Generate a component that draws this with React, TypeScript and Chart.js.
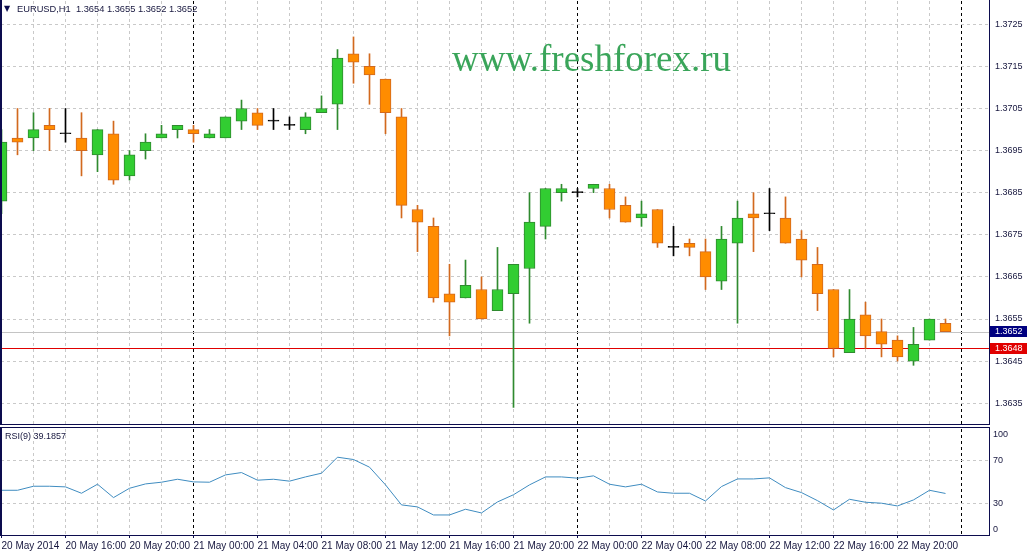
import React, { useEffect, useRef } from 'react';
import { Chart, registerables } from 'chart.js';

Chart.register(...registerables);

// ---------- data ----------
const symbolTitle = 'EURUSD,H1';
const watermarkText = 'www.freshforex.ru';
const rsiName = 'RSI(9)';
const startHour = 12; // first bar: 20 May 2014 12:00

const timeLabels = [
  '20 May 2014', '20 May 16:00', '20 May 20:00', '21 May 00:00', '21 May 04:00',
  '21 May 08:00', '21 May 12:00', '21 May 16:00', '21 May 20:00', '22 May 00:00',
  '22 May 04:00', '22 May 08:00', '22 May 12:00', '22 May 16:00', '22 May 20:00',
];

const opens = [
  1.3683, 1.3698, 1.3698, 1.3701, 1.3699, 1.3698, 1.3694, 1.3699, 1.3689, 1.3695,
  1.3698, 1.3700, 1.3700, 1.3698, 1.3698, 1.3702, 1.3704, 1.3702, 1.3701, 1.3700,
  1.3704, 1.3706, 1.3718, 1.3715, 1.3712, 1.3703, 1.3681, 1.3677, 1.3661, 1.3660,
  1.3662, 1.3657, 1.3661, 1.3667, 1.3677, 1.3685, 1.3685, 1.3686, 1.3686, 1.3682,
  1.3679, 1.3681, 1.3672, 1.3673, 1.3671, 1.3664, 1.3673, 1.3680, 1.3680, 1.3679,
  1.3674, 1.3668, 1.3662, 1.3647, 1.3656, 1.3652, 1.3650, 1.3645, 1.3650, 1.3654,
];
const highs = [
  1.3700, 1.3705, 1.3704, 1.3705, 1.3705, 1.3704, 1.3700, 1.3702, 1.3695, 1.3699,
  1.3701, 1.3701, 1.3701, 1.3700, 1.3703, 1.3707, 1.3705, 1.3705, 1.3703, 1.3704,
  1.3708, 1.3719, 1.3722, 1.3718, 1.3712, 1.3705, 1.3682, 1.3679, 1.3668, 1.3669,
  1.3665, 1.3672, 1.3668, 1.3685, 1.3686, 1.3687, 1.3686, 1.3687, 1.3687, 1.3684,
  1.3683, 1.3681, 1.3677, 1.3674, 1.3674, 1.3677, 1.3683, 1.3685, 1.3686, 1.3684,
  1.3676, 1.3672, 1.3662, 1.3662, 1.3659, 1.3655, 1.3651, 1.3653, 1.3655, 1.3655,
];
const lows = [
  1.3680, 1.3694, 1.3695, 1.3695, 1.3697, 1.3689, 1.3690, 1.3687, 1.3688, 1.3693,
  1.3698, 1.3698, 1.3697, 1.3698, 1.3698, 1.3700, 1.3700, 1.3700, 1.3700, 1.3699,
  1.3704, 1.3700, 1.3711, 1.3706, 1.3699, 1.3679, 1.3671, 1.3659, 1.3651, 1.3660,
  1.3655, 1.3657, 1.3634, 1.3654, 1.3674, 1.3683, 1.3684, 1.3685, 1.3679, 1.3678,
  1.3677, 1.3672, 1.3670, 1.3670, 1.3662, 1.3662, 1.3654, 1.3671, 1.3676, 1.3673,
  1.3665, 1.3657, 1.3646, 1.3647, 1.3648, 1.3646, 1.3645, 1.3644, 1.3650, 1.3652,
];
const closes = [
  1.3697, 1.3697, 1.3700, 1.3700, 1.3699, 1.3695, 1.3700, 1.3688, 1.3694, 1.3697,
  1.3699, 1.3701, 1.3699, 1.3699, 1.3703, 1.3705, 1.3701, 1.3702, 1.3701, 1.3703,
  1.3705, 1.3717, 1.3716, 1.3713, 1.3704, 1.3682, 1.3678, 1.3660, 1.3659, 1.3663,
  1.3655, 1.3662, 1.3668, 1.3678, 1.3686, 1.3686, 1.3685, 1.3687, 1.3681, 1.3678,
  1.3680, 1.3673, 1.3672, 1.3672, 1.3665, 1.3674, 1.3679, 1.3679, 1.3680, 1.3673,
  1.3669, 1.3661, 1.3648, 1.3655, 1.3651, 1.3649, 1.3646, 1.3649, 1.3655, 1.3652,
];
const rsiValues = [
  42.2, 42.2, 46.0, 46.0, 45.4, 39.4, 47.9, 35.3, 44.1, 48.2,
  49.8, 52.6, 50.1, 49.8, 56.7, 58.9, 51.7, 52.6, 50.8, 54.8,
  58.3, 73.4, 71.2, 64.0, 47.3, 28.4, 26.5, 18.9, 18.9, 24.3,
  20.8, 31.2, 38.0, 47.3, 54.8, 54.8, 53.6, 55.8, 47.9, 45.4,
  47.9, 40.6, 39.4, 39.4, 32.1, 45.7, 52.9, 52.9, 53.9, 44.7,
  40.0, 32.4, 23.6, 33.7, 30.9, 30.0, 27.4, 33.1, 42.2, 39.1857,
];
const priceTicks = [1.3635, 1.3645, 1.3655, 1.3665, 1.3675, 1.3685, 1.3695, 1.3705, 1.3715, 1.3725];
const rsiTicks = [0, 30, 70, 100];
const bidPrice = 1.3652;
const linePrice = 1.3648;

// ---------- styling ----------
const FONT = '"Liberation Sans", Arial, sans-serif';
const TEXT = '#16163e';
const NAVY = '#0c0c4e';
const GRID = '#c9c9c9';
const UP_FILL = '#32cd32';
const UP_EDGE = '#2f8a2f';
const DN_FILL = '#ff8c00';
const DN_EDGE = '#d2691e';
const DOJI = '#000000';

const N = opens.length;
const idx = opens.map((_, i) => i);
const gridSteps: number[] = [];
for (let i = 0; i <= N; i += 2) gridSteps.push(i);
const isMidnight = (v: number) => (startHour + v) % 24 === 0;
const kind = (i: number) => (closes[i] > opens[i] ? 'up' : closes[i] < opens[i] ? 'dn' : 'doji');
const fillOf = (i: number) => ({ up: UP_FILL, dn: DN_FILL, doji: DOJI }[kind(i)]);
const edgeOf = (i: number) => ({ up: UP_EDGE, dn: DN_EDGE, doji: DOJI }[kind(i)]);

const X_MIN = -1 / 32;
const X_MAX = 61.75 - 1 / 32;

Chart.defaults.font.family = FONT;

const noPad = (s: any) => {
  s.paddingTop = 0;
  s.paddingBottom = 0;
  s.paddingLeft = 0;
  s.paddingRight = 0;
};

function drawBorders(chart: any, topLine: boolean) {
  const { ctx, chartArea: a } = chart;
  const t = topLine ? a.top - 2 : 0;
  ctx.save();
  ctx.fillStyle = NAVY;
  ctx.fillRect(0, t, 2, a.bottom - t);
  ctx.fillRect(a.right, t, 1, a.bottom - t + 1);
  if (topLine) ctx.fillRect(0, t, a.right + 1, 1);
  ctx.fillRect(0, a.bottom - (topLine ? 0 : 1), a.right + 1, 1);
  ctx.restore();
}

const mainDecor = {
  id: 'mainDecor',
  beforeDatasetsDraw(chart: any) {
    const { ctx, chartArea: a, scales } = chart;
    const y = scales.y;
    ctx.save();
    ctx.fillStyle = '#3aa55a';
    ctx.font = '37px "Liberation Serif", "Times New Roman", serif';
    ctx.textBaseline = 'alphabetic';
    ctx.textAlign = 'left';
    ctx.fillText(watermarkText, 452, 71);
    ctx.setLineDash([]);
    ctx.lineWidth = 1;
    ctx.strokeStyle = '#c4c4c4';
    const yb = Math.round(y.getPixelForValue(bidPrice)) + 0.5;
    ctx.beginPath(); ctx.moveTo(a.left, yb); ctx.lineTo(a.right, yb); ctx.stroke();
    ctx.strokeStyle = '#e00000';
    const yr = Math.round(y.getPixelForValue(linePrice)) + 0.5;
    ctx.beginPath(); ctx.moveTo(a.left, yr); ctx.lineTo(a.right, yr); ctx.stroke();
    ctx.restore();
  },
  afterDraw(chart: any) {
    const { ctx, chartArea: a, scales } = chart;
    const y = scales.y;
    drawBorders(chart, false);
    ctx.save();
    ctx.textBaseline = 'middle';
    ctx.textAlign = 'left';
    ctx.fillStyle = NAVY;
    ctx.font = '8px "DejaVu Sans", sans-serif';
    ctx.fillText('\u25BC', 4, 9);
    ctx.fillStyle = TEXT;
    ctx.font = '9.3px ' + FONT;
    const L = N - 1;
    const head = `${symbolTitle}  ${opens[L].toFixed(4)} ${highs[L].toFixed(4)} ${lows[L].toFixed(4)} ${closes[L].toFixed(4)}`;
    ctx.fillText(head, 17, 9);
    ctx.font = '9px ' + FONT;
    const box = (v: number, bg: string) => {
      const top = Math.round(y.getPixelForValue(v) - 5.5);
      ctx.fillStyle = bg;
      ctx.fillRect(a.right + 1, top, 37, 11);
      ctx.fillStyle = '#ffffff';
      ctx.fillText(v.toFixed(4), a.right + 6, top + 5.5);
    };
    box(bidPrice, '#000080');
    box(linePrice, '#e00000');
    ctx.restore();
  },
};

const rsiDecor = {
  id: 'rsiDecor',
  afterDraw(chart: any) {
    const { ctx } = chart;
    drawBorders(chart, true);
    ctx.save();
    ctx.fillStyle = TEXT;
    ctx.font = '9px ' + FONT;
    ctx.textBaseline = 'middle';
    ctx.textAlign = 'left';
    ctx.fillText(`${rsiName} ${rsiValues[N - 1].toFixed(4)}`, 5, 11);
    ctx.restore();
  },
};

export default function App() {
  const mainRef = useRef<HTMLCanvasElement>(null);
  const rsiRef = useRef<HTMLCanvasElement>(null);

  useEffect(() => {
    const main = new Chart(mainRef.current as HTMLCanvasElement, {
      type: 'bar',
      data: {
        datasets: [
          {
            label: 'range',
            data: idx.map((i) => ({ x: i, y: [lows[i], highs[i]] })) as any,
            backgroundColor: idx.map(edgeOf),
            borderWidth: 0,
            barThickness: 1,
            grouped: false,
            order: 2,
          } as any,
          {
            label: 'body',
            data: idx.map((i) => ({ x: i, y: [opens[i], closes[i]] })) as any,
            backgroundColor: idx.map(fillOf),
            borderColor: idx.map(edgeOf),
            borderWidth: 1,
            borderSkipped: false,
            barThickness: 11,
            minBarLength: 1,
            grouped: false,
            order: 1,
          } as any,
        ],
      },
      options: {
        responsive: false,
        animation: false,
        layout: { padding: { left: 1, top: 1, right: 0, bottom: 0 } },
        plugins: { legend: { display: false }, tooltip: { enabled: false } },
        scales: {
          x: {
            type: 'linear',
            min: X_MIN,
            max: X_MAX,
            offset: false,
            afterBuildTicks: (s: any) => { s.ticks = gridSteps.map((v) => ({ value: v })); },
            afterFit: (s: any) => { s.height = 0; noPad(s); },
            ticks: { display: false },
            grid: {
              offset: false,
              drawTicks: false,
              color: (c: any) => (c.tick && isMidnight(c.tick.value) ? '#000000' : GRID),
            },
            border: { display: false, dash: [3, 3] },
          },
          y: {
            type: 'linear',
            position: 'right',
            min: 1.3725 - (425 - 24.3) / 42100,
            max: 1.3725 + (24.3 - 1) / 42100,
            afterBuildTicks: (s: any) => { s.ticks = priceTicks.map((v) => ({ value: v })); },
            afterFit: (s: any) => { s.width = 42; noPad(s); },
            ticks: {
              autoSkip: false,
              padding: 6,
              color: TEXT,
              font: { size: 9, family: FONT },
              callback: (v: any) => Number(v).toFixed(4),
            },
            grid: { color: GRID, drawTicks: false },
            border: { display: false, dash: [3, 3] },
          },
        } as any,
      },
      plugins: [mainDecor],
    });

    const rsi = new Chart(rsiRef.current as HTMLCanvasElement, {
      type: 'line',
      data: {
        datasets: [
          {
            label: rsiName,
            data: idx.map((i) => ({ x: i, y: rsiValues[i] })),
            borderColor: '#3f8cc0',
            borderWidth: 1,
            pointRadius: 0,
            tension: 0,
            fill: false,
          },
        ],
      },
      options: {
        responsive: false,
        animation: false,
        layout: { padding: { left: 1, top: 3, right: 0, bottom: 0 } },
        plugins: { legend: { display: false }, tooltip: { enabled: false } },
        scales: {
          x: {
            type: 'linear',
            min: X_MIN,
            max: X_MAX,
            offset: false,
            afterBuildTicks: (s: any) => { s.ticks = gridSteps.map((v) => ({ value: v })); },
            afterFit: (s: any) => { s.height = 16; noPad(s); },
            ticks: {
              autoSkip: false,
              maxRotation: 0,
              minRotation: 0,
              align: 'start',
              padding: 2,
              color: TEXT,
              font: { size: 10, family: FONT },
              callback: (v: any) => {
                const n = Math.round(Number(v));
                return n % 4 === 0 && n / 4 < timeLabels.length ? timeLabels[n / 4] : '';
              },
            },
            grid: {
              offset: false,
              drawTicks: true,
              tickLength: 3,
              color: (c: any) => (c.tick && isMidnight(c.tick.value) ? '#000000' : GRID),
              tickColor: (c: any) => (c.tick && Math.round(c.tick.value) % 4 === 0 && c.tick.value / 4 < timeLabels.length ? NAVY : 'rgba(0,0,0,0)'),
            },
            border: { display: false, dash: [3, 3] },
          },
          y: {
            type: 'linear',
            position: 'right',
            min: 0,
            max: 100,
            afterBuildTicks: (s: any) => { s.ticks = rsiTicks.map((v) => ({ value: v })); },
            afterFit: (s: any) => { s.width = 42; noPad(s); },
            ticks: {
              autoSkip: false,
              padding: 4,
              color: TEXT,
              font: { size: 9, family: FONT },
              callback: (v: any) => (v === 100 ? ['', '100'] : v === 0 ? ['0', ''] : String(v)),
            },
            grid: {
              drawTicks: false,
              color: (c: any) => (c.tick && c.tick.value > 0 && c.tick.value < 100 ? GRID : 'rgba(0,0,0,0)'),
            },
            border: { display: false, dash: [3, 3] },
          },
        } as any,
      },
      plugins: [rsiDecor],
    });

    return () => {
      main.destroy();
      rsi.destroy();
    };
  }, []);

  return (
    <div style={{ position: 'fixed', left: 0, top: 0, width: 1031, height: 551, background: '#ffffff', overflow: 'hidden' }}>
      <canvas ref={mainRef} width={1031} height={425} style={{ position: 'absolute', left: 0, top: 0, width: 1031, height: 425 }} />
      <canvas ref={rsiRef} width={1031} height={125} style={{ position: 'absolute', left: 0, top: 426, width: 1031, height: 125 }} />
    </div>
  );
}
